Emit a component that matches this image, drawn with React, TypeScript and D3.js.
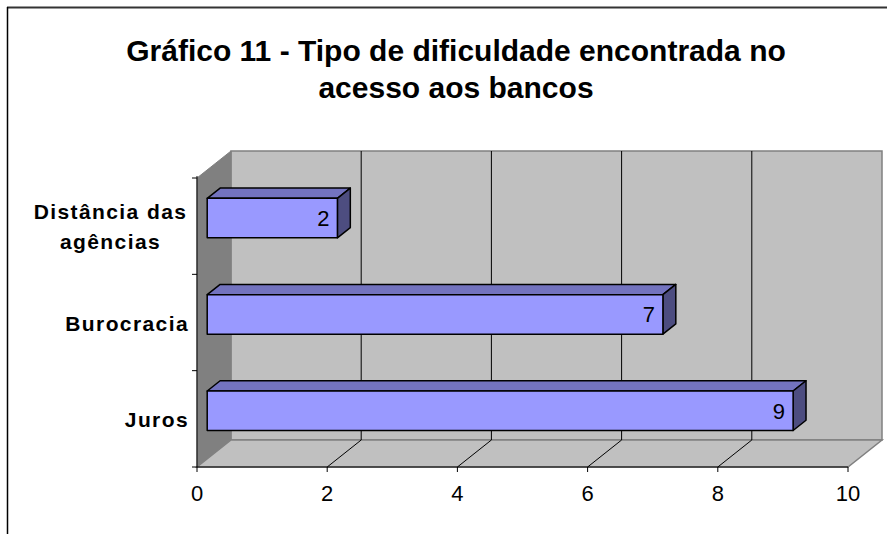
import React from "react";
import * as d3 from "d3";

const categories = ["Distância das\nagências", "Burocracia", "Juros"];
const values = [2, 7, 9];
const xTicks = [0, 2, 4, 6, 8, 10];
const titleLines = ["Gráfico 11 - Tipo de dificuldade encontrada no", "acesso aos bancos"];

const W = 887;
const H = 534;
const FONT = "'Liberation Sans', Arial, sans-serif";

export default function App() {
  const ox = 197; // front-left-bottom
  const oy = 467;
  const DX = 34;
  const DY = 27;
  const plotW = 651;
  const plotH = 289;

  const x = d3.scaleLinear().domain([0, 10]).range([0, plotW]);
  const y = d3.scaleBand<string>().domain(categories).range([oy - plotH, oy]);

  const P = (v: number, yy: number, d: number): [number, number] => [ox + x(v) + DX * d, yy - DY * d];
  const pts = (a: [number, number][]) => a.map((p) => p.join(",")).join(" ");

  const backL = ox + DX;
  const backTop = oy - plotH - DY;
  const backBottom = oy - DY;
  const backR = ox + plotW + DX;

  const d1 = 0.3;
  const d2 = 0.68;
  const barFrac = 0.41;

  return (
    <svg width={W} height={H} style={{ position: "absolute", left: 0, top: 0, background: "#fff" }}>
      {/* frame */}
      <line x1={7} y1={7.5} x2={W} y2={7.5} stroke="#333" strokeWidth={2} />
      <line x1={7.5} y1={7} x2={7.5} y2={H} stroke="#000" strokeWidth={1.5} />

      {/* title */}
      {titleLines.map((t, i) => (
        <text key={i} x={456} y={61 + i * 37} textAnchor="middle" fontFamily={FONT} fontWeight="bold" fontSize={30} fill="#000">
          {t}
        </text>
      ))}

      {/* back wall */}
      <rect x={backL} y={backTop} width={backR - backL} height={backBottom - backTop} fill="#C0C0C0" stroke="#808080" strokeWidth={1.5} />
      {/* left wall */}
      <polygon
        points={pts([[ox, oy - plotH], [backL, backTop], [backL, backBottom], [ox, oy]])}
        fill="#808080"
        stroke="#808080"
        strokeWidth={1}
      />
      {/* floor */}
      <polygon
        points={pts([[ox, oy], [backL, backBottom], [backR, backBottom], [ox + plotW, oy]])}
        fill="#C0C0C0"
        stroke="#808080"
        strokeWidth={1.5}
      />
      {/* gridlines */}
      {xTicks.filter((t) => t > 0 && t < 10).map((t) => (
        <g key={t}>
          <line x1={P(t, oy, 1)[0]} y1={backTop} x2={P(t, oy, 1)[0]} y2={backBottom} stroke="#000" strokeWidth={1} />
          <line x1={P(t, oy, 0)[0]} y1={oy} x2={P(t, oy, 1)[0]} y2={backBottom} stroke="#000" strokeWidth={1} />
        </g>
      ))}

      {/* axes */}
      <line x1={ox} y1={oy} x2={ox + plotW} y2={oy} stroke="#000" strokeWidth={1} />
      <line x1={ox} y1={oy - plotH - 2} x2={ox} y2={oy} stroke="#000" strokeWidth={1} />
      {xTicks.map((t) => (
        <g key={t}>
          <line x1={ox + x(t)} y1={oy} x2={ox + x(t)} y2={oy + 5} stroke="#000" strokeWidth={1} />
          <text x={ox + x(t)} y={oy + 34} textAnchor="middle" fontFamily={FONT} fontSize={22} fill="#000">
            {t}
          </text>
        </g>
      ))}
      {[...categories.map((c) => y(c)!), oy].map((yy, i) => (
        <line key={i} x1={ox - 5} y1={yy} x2={ox} y2={yy} stroke="#000" strokeWidth={1} />
      ))}

      {/* category labels */}
      {categories.map((c) => {
        const lines = c.split("\n");
        const cy = y(c)! + y.bandwidth() / 2;
        const lh = 30;
        const cxCenter = 110.5;
        return (
          <text key={c} fontFamily={FONT} fontWeight="bold" fontSize={21} letterSpacing={1.4} fill="#000"
            textAnchor={lines.length > 1 ? "middle" : "end"}>
            {lines.map((l, i) => (
              <tspan key={i} x={lines.length > 1 ? cxCenter : 189} y={cy + 8 + (i - (lines.length - 1) / 2) * lh}>
                {l}
              </tspan>
            ))}
          </text>
        );
      })}

      {/* bars */}
      {categories.map((c, i) => {
        const v = values[i];
        const bw = y.bandwidth() * barFrac;
        const cy = y(c)! + y.bandwidth() / 2;
        const yTop = cy - bw / 2;
        const yBot = cy + bw / 2;
        const fTL = P(0, yTop, d1);
        const fTR = P(v, yTop, d1);
        const fBR = P(v, yBot, d1);
        const fBL = P(0, yBot, d1);
        const bTL = P(0, yTop, d2);
        const bTR = P(v, yTop, d2);
        const bBR = P(v, yBot, d2);
        return (
          <g key={c} stroke="#000" strokeWidth={1.5} strokeLinejoin="round">
            <polygon points={pts([fTL, bTL, bTR, fTR])} fill="#7373BF" />
            <polygon points={pts([fTR, bTR, bBR, fBR])} fill="#4D4D80" />
            <polygon points={pts([fTL, fTR, fBR, fBL])} fill="#9999FF" />
            <text x={fTR[0] - 8} y={(fTR[1] + fBR[1]) / 2 + 8} textAnchor="end" fontFamily={FONT} fontSize={22} fill="#000" stroke="none">
              {v}
            </text>
          </g>
        );
      })}
    </svg>
  );
}
